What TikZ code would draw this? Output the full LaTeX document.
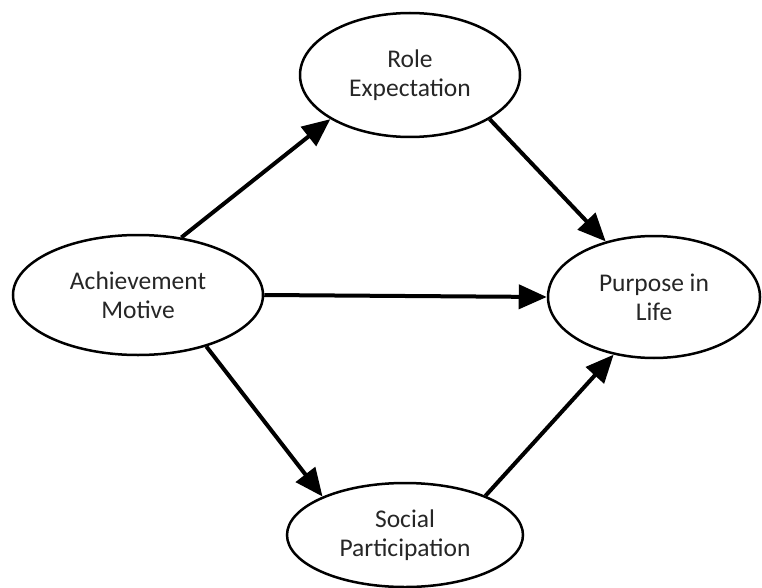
\documentclass[tikz,border=0pt]{standalone}
\usepackage{fontspec}
\setmainfont{Carlito}
\usetikzlibrary{arrows.meta,shapes.geometric}
\begin{document}
\begin{tikzpicture}[x=1pt,y=-1pt,
  ell/.style={draw=black, line width=2.5pt, ellipse, fill=white, inner sep=0pt, align=center,
    font=\fontsize{25.5}{29}\selectfont, text=black!85},
  arr/.style={line width=4pt, -{Triangle[length=28pt,width=24pt]}}]
\useasboundingbox (0,0) rectangle (762,588);
\node[ell, minimum width=220pt, minimum height=124pt] (role) at (410,75) {Role\\Expectation};
\node[ell, minimum width=250pt, minimum height=120pt] (ach) at (138,295) {Achievement\\Motive};
\node[ell, minimum width=212pt, minimum height=122pt] (pur) at (654,297) {Purpose in\\Life};
\node[ell, minimum width=236pt, minimum height=104pt] (soc) at (405,535) {Social\\Participation};
\draw[arr] (ach.53) -- (role.209);
\draw[arr] (role.331) -- (pur.131);
\draw[arr] (ach.0) -- (pur.180);
\draw[arr] (ach.323) -- (soc.155);
\draw[arr] (soc.26) -- (pur.235);
\end{tikzpicture}
\end{document}
